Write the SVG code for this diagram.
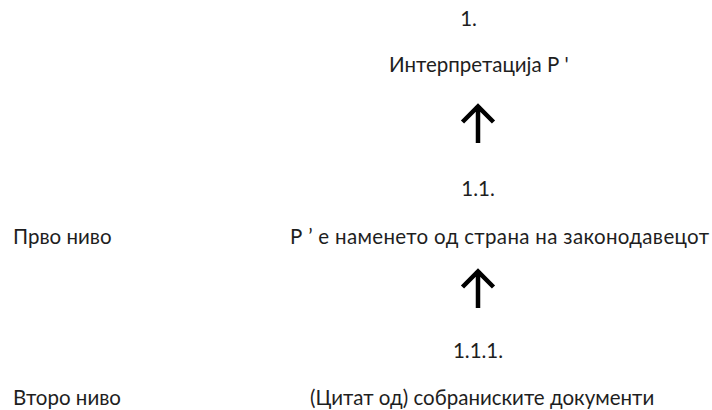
<svg xmlns="http://www.w3.org/2000/svg" width="712" height="410" viewBox="0 0 712 410">
<style>
text{font-family:"Lato","Liberation Sans",sans-serif;font-size:20.5px;fill:#1e1e1e}
.c{text-anchor:middle}
.arr{fill:none;stroke:#000;stroke-width:4.5;stroke-linejoin:miter}
</style>
<rect width="712" height="410" fill="#fff"/>
<g id="n1"><text class="c" x="468.5" y="26">1.</text><text x="389" y="72">Интерпретација Р '</text></g>
<g id="n11"><text class="c" x="478" y="196">1.1.</text><text x="290" y="244" textLength="419" lengthAdjust="spacing">Р ’ е наменето од страна на законодавецот</text></g>
<g id="n111"><text class="c" x="478" y="358">1.1.1.</text><text x="310" y="405">(Цитат од) собраниските документи</text></g>
<g id="l1"><text x="13" y="244">Прво ниво</text></g>
<g id="l2"><text x="13" y="405">Второ ниво</text></g>
<g id="connectors">
<path class="arr" d="M478 108V143M462.5 122L478 106.5L493.5 122"/>
<path class="arr" d="M478 273V308M462.5 287L478 271.5L493.5 287"/>
</g>
</svg>
